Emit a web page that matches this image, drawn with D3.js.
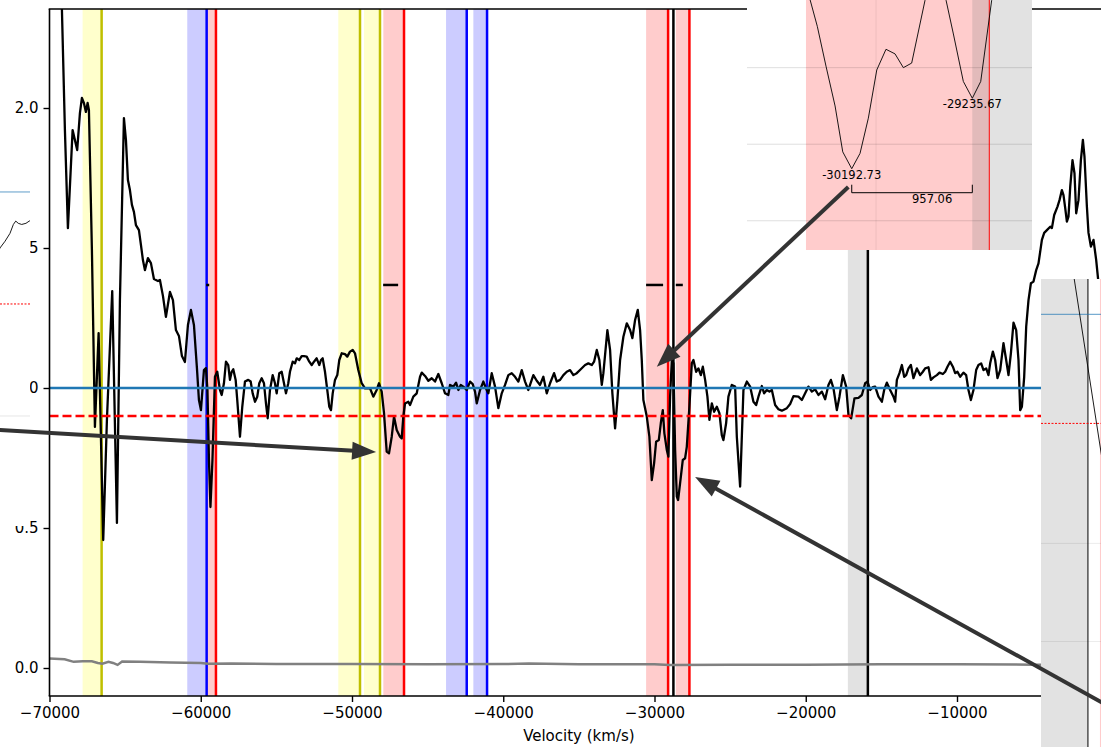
<!DOCTYPE html>
<html>
<head>
<meta charset="utf-8">
<script src="https://cdn.jsdelivr.net/npm/d3@7"></script>
<style>
  body { margin: 0; background: #fff; }
  svg { display: block; font-family: "DejaVu Sans", sans-serif; }
</style>
</head>
<body>
<svg id="chart" width="1101" height="747"></svg>
<script>
// main spectrum: [velocity km/s, normalised flux]
const spectrum = [
  [-69970,3.28],[-69440,2.74],[-69180,2.354],[-68981,1.921],[-68783,1.571],[-68472,1.921],[-68168,1.85],[-67989,1.982],
  [-67857,2.036],[-67725,2.018],[-67593,1.986],[-67480,2.018],[-67394,1.993],[-67196,1.493],[-66997,0.861],[-66753,1.196],
  [-66448,0.457],[-66204,0.886],[-65853,1.346],[-65542,0.518],[-65344,1.314],[-65079,1.964],[-64947,1.886],[-64815,1.743],
  [-64682,1.707],[-64550,1.654],[-64418,1.629],[-64286,1.582],[-64087,1.564],[-63955,1.511],[-63823,1.457],[-63691,1.421],
  [-63492,1.464],[-63294,1.446],[-63095,1.389],[-62831,1.382],[-62699,1.386],[-62500,1.329],[-62302,1.254],[-62037,1.343],
  [-61839,1.314],[-61641,1.207],[-61442,1.186],[-61244,1.114],[-61046,1.093],[-60847,1.225],[-60649,1.279],[-60450,1.225],
  [-60252,1.071],[-60120,0.957],[-59987,0.921],[-59789,1.064],[-59656,1.071],[-59557,0.993],[-59458,0.743],[-59359,0.575],
  [-59226,0.743],[-59061,1.040],[-58909,1.058],[-58730,0.993],[-58618,0.975],[-58466,1.017],[-58333,1.094],[-58181,1.082],
  [-58069,1.029],[-57956,1.058],[-57850,1.067],[-57692,1.029],[-57586,0.957],[-57407,0.826],[-57255,0.933],[-57077,1.023],
  [-56858,1.029],[-56700,1.023],[-56567,0.981],[-56415,0.951],[-56263,0.969],[-56131,1.017],[-55972,1.035],[-55820,1.017],
  [-55688,0.945],[-55575,0.892],[-55423,0.993],[-55245,1.046],[-55093,1.017],[-54980,0.981],[-54808,1.053],[-54649,1.058],
  [-54497,1.017],[-54365,0.981],[-54213,1.017],[-54101,1.058],[-53922,1.094],[-53770,1.088],[-53658,1.106],[-53486,1.1],
  [-53327,1.114],[-53175,1.114],[-52996,1.112],[-52824,1.094],[-52665,1.082],[-52513,1.094],[-52335,1.106],[-52163,1.082],
  [-52050,1.1],[-51938,1.106],[-51786,1.058],[-51607,0.981],[-51501,0.933],[-51389,0.921],[-51276,0.981],[-51124,1.029],
  [-50972,1.046],[-50840,1.1],[-50681,1.124],[-50463,1.121],[-50311,1.112],[-50132,1.130],[-49954,1.136],[-49802,1.124],
  [-49584,1.064],[-49359,1.017],[-49141,0.999],[-48810,0.999],[-48591,0.969],[-48367,0.993],[-48214,1.017],[-48036,0.987],
  [-47884,0.910],[-47705,0.773],[-47553,0.767],[-47374,0.826],[-47222,0.898],[-47044,0.85],[-46825,0.826],[-46713,0.820],
  [-46607,0.898],[-46494,0.945],[-46276,0.951],[-46164,0.939],[-45945,0.969],[-45720,0.981],[-45502,1.040],[-45390,1.055],
  [-45171,1.043],[-44953,1.026],[-44728,1.035],[-44510,1.023],[-44292,1.05],[-44067,1.017],[-43849,0.981],[-43631,0.975],
  [-43519,1.011],[-43300,1.005],[-43121,1.019],[-42969,0.993],[-42811,1.011],[-42639,1.005],[-42414,0.993],[-42196,1.023],
  [-42018,1.014],[-41866,0.987],[-41753,0.945],[-41535,0.993],[-41316,1.023],[-41092,0.993],[-40986,0.981],[-40761,1.053],
  [-40543,1.005],[-40325,0.928],[-40100,0.981],[-39882,1.011],[-39663,1.046],[-39439,1.053],[-39220,1.040],[-39002,1.023],
  [-38777,1.064],[-38559,1.023],[-38341,0.993],[-38010,1.046],[-37785,1.026],[-37567,1.011],[-37348,1.040],[-37124,0.981],
  [-36905,1.017],[-36641,1.053],[-36462,1.023],[-36244,1.029],[-36025,1.046],[-35801,1.058],[-35582,1.064],[-35364,1.046],
  [-35139,1.053],[-34875,1.067],[-34590,1.082],[-34372,1.088],[-34147,1.082],[-33995,1.094],[-33816,1.136],[-33645,1.1],
  [-33486,1.011],[-33380,1.053],[-33115,1.207],[-32937,1.136],[-32785,0.981],[-32606,0.856],[-32454,0.957],[-32275,1.1],
  [-32057,1.183],[-31832,1.231],[-31614,1.207],[-31462,1.178],[-31283,1.243],[-31105,1.279],[-30953,1.207],[-30841,1.1],
  [-30735,0.957],[-30510,0.898],[-30338,0.826],[-30179,0.671],[-30027,0.731],[-29894,0.808],[-29716,0.814],[-29584,0.874],
  [-29452,0.921],[-29346,0.838],[-29187,0.779],[-29081,0.755],[-28969,0.969],[-28855,1.1],[-28750,1.088],[-28637,0.779],
  [-28525,0.612],[-28440,0.6],[-28307,0.660],[-28129,0.743],[-27977,0.749],[-27865,0.790],[-27693,0.933],[-27534,1.088],
  [-27426,1.1],[-27248,1.058],[-27096,1.070],[-26937,1.046],[-26805,1.076],[-26653,1.029],[-26501,0.969],[-26369,0.886],
  [-26210,0.945],[-26058,0.915],[-25880,0.933],[-25708,0.910],[-25549,0.832],[-25443,0.814],[-25265,0.874],[-25113,0.969],
  [-24888,1.011],[-24670,1.005],[-24557,0.826],[-24339,0.648],[-24120,0.993],[-23895,1.023],[-23677,1.005],[-23459,0.951],
  [-23280,0.939],[-23128,0.969],[-22904,1.007],[-22752,0.981],[-22573,0.993],[-22401,0.987],[-22242,0.993],[-22024,0.939],
  [-21806,0.924],[-21581,0.919],[-21250,0.928],[-21032,0.943],[-20813,0.971],[-20483,0.969],[-20258,0.957],[-20040,0.981],
  [-19822,1.005],[-19597,0.987],[-19379,0.995],[-19160,0.975],[-18935,0.987],[-18717,0.960],[-18499,1.011],[-18340,1.029],
  [-18168,0.999],[-17943,0.921],[-17771,0.969],[-17546,1.046],[-17328,1.005],[-17176,0.904],[-16998,0.892],[-16780,0.963],
  [-16515,0.965],[-16290,0.975],[-16072,1.017],[-15920,1.023],[-15741,0.993],[-15563,1.003],[-15411,1.005],[-15192,0.969],
  [-14967,0.951],[-14815,0.993],[-14637,1.019],[-14419,0.993],[-14200,0.969],[-14088,0.951],[-13976,1.029],[-13804,1.053],
  [-13645,1.082],[-13493,1.040],[-13361,1.046],[-13209,1.070],[-13050,1.082],[-12878,1.035],[-12653,1.070],[-12435,1.046],
  [-12257,1.058],[-12105,1.070],[-11886,1.074],[-11728,1.029],[-11556,1.038],[-11331,1.046],[-11159,1.055],[-10934,1.05],
  [-10782,1.058],[-10630,1.076],[-10451,1.094],[-10273,1.076],[-10121,1.053],[-9969,1.058],[-9791,1.040],[-9573,1.055],
  [-9394,1.046],[-9242,0.993],[-9083,0.957],[-8911,0.993],[-8733,1.064],[-8581,1.082],[-8402,1.088],[-8249,1.064],
  [-8071,1.070],[-7919,1.046],[-7807,1.088],[-7628,1.130],[-7476,1.1],[-7324,1.035],[-7145,1.064],[-6927,1.160],
  [-6749,1.1],[-6596,1.046],[-6437,1.124],[-6265,1.233],[-6087,1.207],[-5935,1.1],[-5822,0.921],[-5710,0.933],
  [-5558,1.040],[-5425,1.219],[-5273,1.314],[-5114,1.374],[-4943,1.380],[-4764,1.421],[-4612,1.445],[-4387,1.529],
  [-4235,1.554],[-4056,1.564],[-3838,1.576],[-3726,1.571],[-3574,1.618],[-3356,1.648],[-3223,1.671],[-3065,1.707],
  [-2959,1.689],[-2847,1.643],[-2735,1.594],[-2629,1.612],[-2513,1.719],[-2364,1.814],[-2232,1.767],[-2120,1.624],
  [-1968,1.671],[-1809,1.814],[-1677,1.886],[-1571,1.826],[-1412,1.648],[-1306,1.554],[-1147,1.505],[-975,1.529],
  [-797,1.457],[-532,1.314],[-200,1.207]
];

// flux uncertainty
const errorSpectrum = [
  [-70000,0.034],[-69000,0.031],[-68400,0.022],[-67800,0.024],[-67200,0.024],[-66800,0.018],[-66500,0.015],
  [-66100,0.022],[-65800,0.018],[-65500,0.011],[-65200,0.023],[-64000,0.022],[-62000,0.020],[-60000,0.018],
  [-59500,0.015],[-58000,0.016],[-55000,0.014],[-50000,0.014],[-45000,0.013],[-40000,0.014],[-38300,0.016],
  [-35000,0.013],[-30000,0.013],[-29000,0.011],[-25000,0.012],[-20000,0.012],[-15000,0.013],[-10000,0.013],
  [-5000,0.012],[0,0.012]
];

// line markers and their shaded windows
const markerVel   = [-66554, -59610, -58995, -49471, -48149, -46561, -42414, -41071, -29101, -28750, -27692, -15893];
const markerGroup = ['y', 'b', 'r', 'y', 'y', 'r', 'b', 'b', 'r', 'k', 'r', 'k'];
const windowLow   = [-67811, -60893, -59610, -50906, -49207, -47930, -43783, -41977, -30556, null, -28591, -17215];

const continuumLevel = 1.0;
const thresholdLevel = 0.9;

// short horizontal features
const featureLow  = [-59640, -47942, -30556, -28591];
const featureHigh = [-59440, -46950, -29432, -28128];
const featureFlux = 1.368;

const xTicks = [-70000, -60000, -50000, -40000, -30000, -20000, -10000];
const yTicks = [0.0, 0.5, 1.0, 1.5, 2.0];

// zoom inset around the -30000 km/s trough
const zoomCurve = [
  [-30555,0.904],[-30466,0.877],[-30397,0.851],[-30325,0.825],[-30264,0.795],[-30192.73,0.784],[-30127,0.794],
  [-30061,0.817],[-29994,0.8485],[-29921,0.862],[-29849,0.859],[-29783,0.850],[-29717,0.853],[-29611,0.894],
  [-29555,0.907],[-29492,0.907],[-29444,0.894],[-29386,0.872],[-29307,0.841],[-29235.67,0.830],[-29169,0.841],
  [-29082,0.894],[-29048,0.907]
];
const zoomMinima = [[-30192.73, 0.784], [-29235.67, 0.830]];
const zoomGray = [-29236, -28750];
const zoomGridFlux = [0.85, 0.80, 0.75];
const zoomGridVel = [-30000];

// right-edge inset
const edgeCurve = [[-28960, 1.045], [-28560, 0.866]];
const edgeGray = [-29450, -28750];
const edgeRed = -28591;
const edgeGridFlux = [0.79, 0.70];

// left-edge inset
const leftCurve = [
  [-47060,0.945],[-47038,0.950],[-46998,0.956],[-46959,0.963],[-46932,0.971],[-46913,0.974],
  [-46893,0.972],[-46866,0.971],[-46832,0.972],[-46806,0.974],[-46770,0.976]
];
const leftGridFlux = [0.8];

// arrows: tail in inset data, tip in main data
const arrowLeft  = {tail: [-47100, 0.788], tip: [-48408, 0.771]};
const arrowZoom  = {tail: [-30220, 0.772], tip: [-29847, 1.076]};
const arrowEdge  = {tail: [-28300, 0.634], tip: [-27315, 0.682]};

const spanColor = {y: 'rgba(255,255,0,0.2)', b: 'rgba(0,0,255,0.2)', r: 'rgba(255,0,0,0.2)', k: 'rgba(128,128,128,0.23)'};
const lineColor = {y: '#bfbf00', b: '#0000ff', r: '#ff0000', k: '#000000'};

const svg = d3.select('#chart');
const plotTop = 9, plotBottom = 696, plotLeft = 49.5;

const x = d3.scaleLinear().domain([-70000, 0]).range([plotLeft, 1108.25]);
const y = d3.scaleLinear().domain([-0.1, 2.3536]).range([plotBottom, plotTop]);

const defs = svg.append('defs');
defs.append('clipPath').attr('id', 'plotClip')
  .append('rect').attr('x', plotLeft).attr('y', plotTop).attr('width', 1101 - plotLeft).attr('height', plotBottom - plotTop);

const plot = svg.append('g').attr('clip-path', 'url(#plotClip)');

const markers = markerVel.map((v, i) => ({v, g: markerGroup[i], lo: windowLow[i]}));

plot.selectAll('.win')
  .data(markers.filter(d => d.lo !== null))
  .enter().append('rect')
  .attr('x', d => x(d.lo))
  .attr('y', plotTop)
  .attr('width', d => x(d.v) - x(d.lo))
  .attr('height', plotBottom - plotTop)
  .style('fill', d => spanColor[d.g]);

plot.selectAll('.mark')
  .data(markers)
  .enter().append('line')
  .attr('x1', d => x(d.v)).attr('x2', d => x(d.v))
  .attr('y1', plotTop).attr('y2', plotBottom)
  .style('stroke', d => lineColor[d.g])
  .style('stroke-width', 2.5);

const line = d3.line().x(d => x(d[0])).y(d => y(d[1]));

plot.append('path').datum(errorSpectrum)
  .attr('d', line)
  .style('fill', 'none').style('stroke', '#808080').style('stroke-width', 2.5);

plot.append('path').datum(spectrum)
  .attr('d', line)
  .style('fill', 'none').style('stroke', '#000').style('stroke-width', 2.3)
  .style('stroke-linejoin', 'round');

plot.append('line')
  .attr('x1', plotLeft).attr('x2', 1101)
  .attr('y1', y(continuumLevel)).attr('y2', y(continuumLevel))
  .style('stroke', '#1f77b4').style('stroke-width', 2.6);

plot.append('line')
  .attr('x1', plotLeft).attr('x2', 1101)
  .attr('y1', y(thresholdLevel)).attr('y2', y(thresholdLevel))
  .style('stroke', '#ff0000').style('stroke-width', 2.5).style('stroke-dasharray', '9,4');

plot.selectAll('.feat')
  .data(featureLow.map((lo, i) => [lo, featureHigh[i]]))
  .enter().append('line')
  .attr('x1', d => x(d[0])).attr('x2', d => x(d[1]))
  .attr('y1', y(featureFlux)).attr('y2', y(featureFlux))
  .style('stroke', '#000').style('stroke-width', 2.5);

// axes
const xAxis = svg.append('g').attr('transform', `translate(0,${plotBottom})`)
  .call(d3.axisBottom(x).tickValues(xTicks).tickSize(6).tickPadding(5).tickSizeOuter(0).tickFormat(d3.format('d')));
const yAxis = svg.append('g').attr('transform', `translate(${plotLeft},0)`)
  .call(d3.axisLeft(y).tickValues(yTicks).tickSize(6).tickPadding(5).tickSizeOuter(0).tickFormat(d3.format('.1f')));
[xAxis, yAxis].forEach(a => {
  a.select('.domain').remove();
  a.selectAll('.tick line').style('stroke', '#000').style('stroke-width', 1.4);
  a.selectAll('.tick text').style('font-size', '15px').style('fill', '#000').style('font-family', '"DejaVu Sans", sans-serif');
});

svg.append('line').attr('x1', plotLeft).attr('x2', plotLeft).attr('y1', plotTop).attr('y2', plotBottom)
  .style('stroke', '#000').style('stroke-width', 1.6);
svg.append('line').attr('x1', plotLeft - 0.8).attr('x2', 1101).attr('y1', plotBottom).attr('y2', plotBottom)
  .style('stroke', '#000').style('stroke-width', 1.6);
svg.append('line').attr('x1', plotLeft - 0.8).attr('x2', 1101).attr('y1', plotTop).attr('y2', plotTop)
  .style('stroke', '#000').style('stroke-width', 1.6);

svg.append('text')
  .attr('x', (x.range()[0] + x.range()[1]) / 2).attr('y', 741)
  .attr('text-anchor', 'middle')
  .style('font-size', '15px')
  .text('Velocity (km/s)');

// zoom inset (top right)
const zx = d3.scaleLinear().domain([-31024, -28762]).range([747, 1032]);
const zy = d3.scaleLinear().domain([0.7309, 0.8942]).range([250, 0]);
defs.append('clipPath').attr('id', 'zoomClip')
  .append('rect').attr('x', 747).attr('y', 0).attr('width', 285).attr('height', 250);
const zoom = svg.append('g').attr('clip-path', 'url(#zoomClip)');
zoom.append('rect').attr('x', 747).attr('y', 0).attr('width', 285).attr('height', 250).style('fill', '#fff');
markers.filter(d => d.lo !== null && d.g === 'r').forEach(d => {
  zoom.append('rect').attr('x', zx(d.lo)).attr('y', 0).attr('width', zx(d.v) - zx(d.lo)).attr('height', 250)
    .style('fill', spanColor.r);
});
zoom.append('rect').attr('x', zx(zoomGray[0])).attr('y', 0).attr('width', zx(zoomGray[1]) - zx(zoomGray[0])).attr('height', 250)
  .style('fill', spanColor.k);
zoom.selectAll('.zg').data(zoomGridFlux).enter().append('line')
  .attr('x1', 747).attr('x2', 1032).attr('y1', d => zy(d)).attr('y2', d => zy(d))
  .style('stroke', 'rgba(0,0,0,0.13)').style('stroke-width', 1);
zoom.selectAll('.zv').data(zoomGridVel).enter().append('line')
  .attr('x1', d => zx(d)).attr('x2', d => zx(d)).attr('y1', 0).attr('y2', 250)
  .style('stroke', 'rgba(0,0,0,0.07)').style('stroke-width', 1);
markers.filter(d => d.g === 'r').forEach(d => {
  zoom.append('line').attr('x1', zx(d.v)).attr('x2', zx(d.v)).attr('y1', 0).attr('y2', 250)
    .style('stroke', '#ff0000').style('stroke-width', 1);
});
zoom.append('path').datum(zoomCurve)
  .attr('d', d3.line().x(d => zx(d[0])).y(d => zy(d[1])))
  .style('fill', 'none').style('stroke', '#000').style('stroke-width', 0.9);
zoomMinima.forEach(m => {
  zoom.append('text').attr('x', zx(m[0])).attr('y', zy(m[1]) + 10)
    .attr('text-anchor', 'middle').style('font-size', '11.5px').text(m[0].toFixed(2));
});
const bracketY = zy(zoomMinima[0][1]) + 24;
const bx0 = zx(zoomMinima[0][0]), bx1 = zx(zoomMinima[1][0]);
zoom.append('path')
  .attr('d', `M${bx0},${bracketY - 8}V${bracketY}H${bx1}V${bracketY - 8}`)
  .style('fill', 'none').style('stroke', '#000').style('stroke-width', 1);
zoom.append('text').attr('x', (bx0 + bx1) / 2).attr('y', bracketY + 10)
  .style('font-size', '11.5px').text((zoomMinima[1][0] - zoomMinima[0][0]).toFixed(2));

// edge inset (bottom right)
const ex = d3.scaleLinear().domain([-29372, -28577]).range([1041, 1101]);
const ey = d3.scaleLinear().domain([0.6033, 1.0324]).range([747, 279]);
defs.append('clipPath').attr('id', 'edgeClip')
  .append('rect').attr('x', 1041).attr('y', 279).attr('width', 60).attr('height', 468);
const edge = svg.append('g').attr('clip-path', 'url(#edgeClip)');
edge.append('rect').attr('x', 1041).attr('y', 279).attr('width', 60).attr('height', 468).style('fill', '#fff');
edge.append('rect').attr('x', ex(edgeGray[0])).attr('y', 279).attr('width', ex(edgeGray[1]) - ex(edgeGray[0])).attr('height', 468)
  .style('fill', spanColor.k);
edge.append('rect').attr('x', ex(edgeRed)).attr('y', 279).attr('width', 20).attr('height', 468)
  .style('fill', spanColor.r);
edge.selectAll('.eg').data(edgeGridFlux).enter().append('line')
  .attr('x1', 1041).attr('x2', 1101).attr('y1', d => ey(d)).attr('y2', d => ey(d))
  .style('stroke', 'rgba(0,0,0,0.08)').style('stroke-width', 1);
edge.append('line').attr('x1', ex(edgeGray[1])).attr('x2', ex(edgeGray[1])).attr('y1', 279).attr('y2', 747)
  .style('stroke', '#000').style('stroke-width', 1);
edge.append('line').attr('x1', 1041).attr('x2', 1101).attr('y1', ey(continuumLevel)).attr('y2', ey(continuumLevel))
  .style('stroke', '#1f77b4').style('stroke-opacity', 0.6).style('stroke-width', 1.2);
edge.append('line').attr('x1', 1041).attr('x2', 1101).attr('y1', ey(thresholdLevel)).attr('y2', ey(thresholdLevel))
  .style('stroke', '#ff0000').style('stroke-width', 1).style('stroke-dasharray', '2,1.5');
edge.append('path').datum(edgeCurve)
  .attr('d', d3.line().x(d => ex(d[0])).y(d => ey(d[1])))
  .style('fill', 'none').style('stroke', '#000').style('stroke-width', 0.9);

// left-edge inset
const lx = d3.scaleLinear().domain([-47038, -46800]).range([0, 30]);
const ly = d3.scaleLinear().domain([0.7018, 1.0196]).range([526, 170]);
defs.append('clipPath').attr('id', 'leftClip')
  .append('rect').attr('x', 0).attr('y', 170).attr('width', 30).attr('height', 356);
const leftInset = svg.append('g').attr('clip-path', 'url(#leftClip)');
leftInset.append('rect').attr('x', 0).attr('y', 170).attr('width', 30).attr('height', 356).style('fill', '#fff');
leftInset.selectAll('.lg').data(leftGridFlux).enter().append('line')
  .attr('x1', 0).attr('x2', 30).attr('y1', d => ly(d)).attr('y2', d => ly(d))
  .style('stroke', 'rgba(0,0,0,0.1)').style('stroke-width', 1);
leftInset.append('line').attr('x1', 0).attr('x2', 30).attr('y1', ly(continuumLevel)).attr('y2', ly(continuumLevel))
  .style('stroke', '#1f77b4').style('stroke-opacity', 0.6).style('stroke-width', 1.2);
leftInset.append('line').attr('x1', 0).attr('x2', 30).attr('y1', ly(thresholdLevel)).attr('y2', ly(thresholdLevel))
  .style('stroke', '#ff0000').style('stroke-width', 1).style('stroke-dasharray', '2,1.5');
leftInset.append('path').datum(leftCurve)
  .attr('d', d3.line().x(d => lx(d[0])).y(d => ly(d[1])))
  .style('fill', 'none').style('stroke', '#000').style('stroke-width', 0.9);

// arrows
function arrow(tx, ty, hx, hy) {
  const ang = Math.atan2(hy - ty, hx - tx);
  const len = 24, half = 9;
  const bx = hx - len * Math.cos(ang), by = hy - len * Math.sin(ang);
  const nx = -Math.sin(ang), ny = Math.cos(ang);
  const g = svg.append('g');
  g.append('line').attr('x1', tx).attr('y1', ty).attr('x2', bx + 2 * Math.cos(ang)).attr('y2', by + 2 * Math.sin(ang))
    .style('stroke', '#333').style('stroke-width', 4);
  g.append('path')
    .attr('d', `M${hx},${hy}L${bx + half * nx},${by + half * ny}L${bx - half * nx},${by - half * ny}Z`)
    .style('fill', '#333');
}
arrow(lx(arrowLeft.tail[0]), ly(arrowLeft.tail[1]), x(arrowLeft.tip[0]), y(arrowLeft.tip[1]));
arrow(zx(arrowZoom.tail[0]), zy(arrowZoom.tail[1]), x(arrowZoom.tip[0]), y(arrowZoom.tip[1]));
arrow(ex(arrowEdge.tail[0]), ey(arrowEdge.tail[1]), x(arrowEdge.tip[0]), y(arrowEdge.tip[1]));
</script>
</body>
</html>
